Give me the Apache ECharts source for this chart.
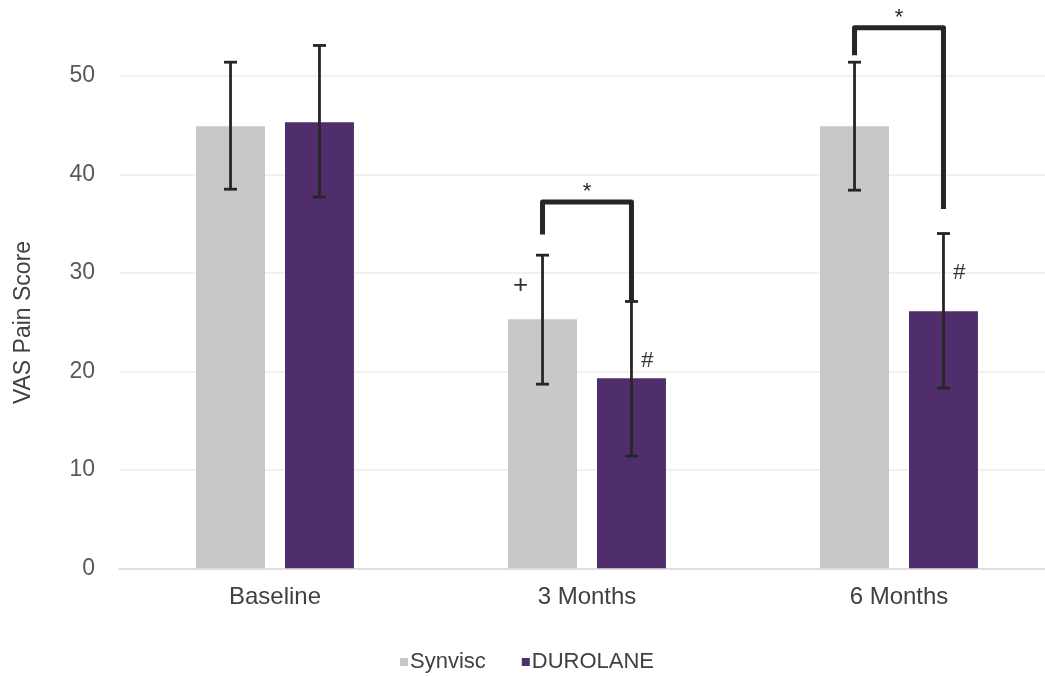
<!DOCTYPE html>
<html>
<head>
<meta charset="utf-8">
<script src="https://cdn.jsdelivr.net/npm/echarts@6/dist/echarts.min.js"></script>
<style>
html,body{margin:0;padding:0;background:#fff;}
#chart{width:1045px;height:677px;}
</style>
</head>
<body>
<div id="chart"></div>
<script>
// ---- data ----
var categories = ['Baseline', '3 Months', '6 Months'];
var seriesNames = ['Synvisc', 'DUROLANE'];
var synviscValues = [44.9, 25.3, 44.9];
var durolaneValues = [45.3, 19.3, 26.1];
// error bars: [low, high]
var synviscErr = [[38.5, 51.4], [18.7, 31.8], [38.4, 51.4]];
var durolaneErr = [[37.7, 53.1], [11.4, 27.1], [18.3, 34.0]];
// significance brackets: [categoryIndex, leftEnd, top, rightEnd]
var brackets = [[1, 33.9, 37.2, 27.1], [2, 52.1, 54.9, 36.5]];
// annotations: [categoryIndex, seriesIndex, value, text]
var annotations = [[1, 0, 28.7, '+'], [1, 1, 21.1, '#'], [2, 1, 30.0, '#']];
var yTicks = [0, 10, 20, 30, 40, 50];
var yTitle = 'VAS Pain Score';

var FONT = 'Liberation Sans, Arial, sans-serif';
var colors = ['#C8C8C9', '#4F2E6B'];
var BAR_W = 0.221, GAP = 0.29;
var OFF = (BAR_W + BAR_W * GAP) / 2;

function barX(api, cat, sIdx) {
  var c = api.coord([cat, 0]);
  var band = api.size([1, 0])[0];
  return c[0] + (sIdx === 0 ? -1 : 1) * band * OFF;
}

var errData = [];
synviscErr.forEach(function (e, i) { errData.push([i, e[0], e[1], 0]); });
durolaneErr.forEach(function (e, i) { errData.push([i, e[0], e[1], 1]); });

var chart = echarts.init(document.getElementById('chart'));
chart.setOption({
  animation: false,
  textStyle: { fontFamily: FONT },
  grid: { left: 119, right: -10, top: -22.5, bottom: 108.7, outerBoundsMode: 'none', containLabel: false },
  graphic: [{
    type: 'text', x: 23.5, y: 322.5, rotation: Math.PI / 2,
    style: { text: yTitle, fontSize: 23, fill: '#404040', align: 'center', verticalAlign: 'middle', fontFamily: FONT }
  }],
  legend: {
    data: seriesNames,
    top: 651,
    left: 400,
    padding: 0,
    icon: 'rect',
    itemWidth: 8,
    itemHeight: 8,
    itemGap: 36,
    textStyle: { fontSize: 22, color: '#404040', padding: [0, 0, 0, -3] }
  },
  xAxis: {
    type: 'category',
    data: categories,
    axisTick: { show: false },
    axisLine: { lineStyle: { color: '#D9D9D9', width: 1.5 } },
    axisLabel: { fontSize: 24, color: '#404040', margin: 17 }
  },
  yAxis: {
    type: 'value',
    min: 0,
    max: 60,
    interval: 10,
    axisLine: { show: false },
    axisTick: { show: false },
    splitLine: { lineStyle: { color: '#EDEDED', width: 1.5 } },
    axisLabel: {
      fontSize: 23, color: '#595959', margin: 24,
      formatter: function (v) { return yTicks.indexOf(v) >= 0 ? String(v) : ''; }
    }
  },
  series: [
    {
      name: seriesNames[0], type: 'bar', data: synviscValues,
      barWidth: (BAR_W * 100) + '%', barGap: (GAP * 100) + '%',
      itemStyle: { color: colors[0] }
    },
    {
      name: seriesNames[1], type: 'bar', data: durolaneValues,
      barWidth: (BAR_W * 100) + '%', barGap: (GAP * 100) + '%',
      itemStyle: { color: colors[1] }
    },
    {
      type: 'custom', name: 'err', data: errData, z: 10,
      renderItem: function (params, api) {
        var cat = api.value(0), sIdx = api.value(3);
        var x = barX(api, cat, sIdx);
        var lo = api.coord([cat, api.value(1)])[1];
        var hi = api.coord([cat, api.value(2)])[1];
        var hw = 6.5;
        var st = { stroke: '#262626', lineWidth: 2.8 };
        return {
          type: 'group',
          children: [
            { type: 'line', shape: { x1: x, y1: lo, x2: x, y2: hi }, style: st },
            { type: 'line', shape: { x1: x - hw, y1: lo, x2: x + hw, y2: lo }, style: st },
            { type: 'line', shape: { x1: x - hw, y1: hi, x2: x + hw, y2: hi }, style: st }
          ]
        };
      }
    },
    {
      type: 'custom', name: 'brackets', data: brackets, z: 11,
      renderItem: function (params, api) {
        var cat = api.value(0);
        var xl = barX(api, cat, 0), xr = barX(api, cat, 1);
        var yl = api.coord([cat, api.value(1)])[1];
        var yt = api.coord([cat, api.value(2)])[1];
        var yr = api.coord([cat, api.value(3)])[1];
        var ys = api.coord([cat, api.value(2) + 1.0])[1];
        return {
          type: 'group',
          children: [
            { type: 'polyline', shape: { points: [[xl, yl], [xl, yt], [xr, yt], [xr, yr]] },
              style: { stroke: '#262626', lineWidth: 5, fill: null, lineJoin: 'round' } },
            { type: 'text', x: (xl + xr) / 2, y: ys,
              style: { text: '*', fontSize: 22, fill: '#262626', align: 'center', verticalAlign: 'middle',
                       fontFamily: FONT } }
          ]
        };
      }
    },
    {
      type: 'custom', name: 'annot', data: annotations, z: 12,
      renderItem: function (params, api) {
        var cat = api.value(0), sIdx = api.value(1);
        var txt = annotations[params.dataIndex][3];
        var x = barX(api, cat, sIdx) + (txt === '+' ? -22 : 16);
        var y = api.coord([cat, api.value(2)])[1];
        return {
          type: 'text', x: x, y: y,
          style: { text: txt, fontSize: txt === '+' ? 26 : 22, fill: '#333333', align: 'center', verticalAlign: 'middle',
                   fontFamily: FONT }
        };
      }
    }
  ]
});
</script>
</body>
</html>
